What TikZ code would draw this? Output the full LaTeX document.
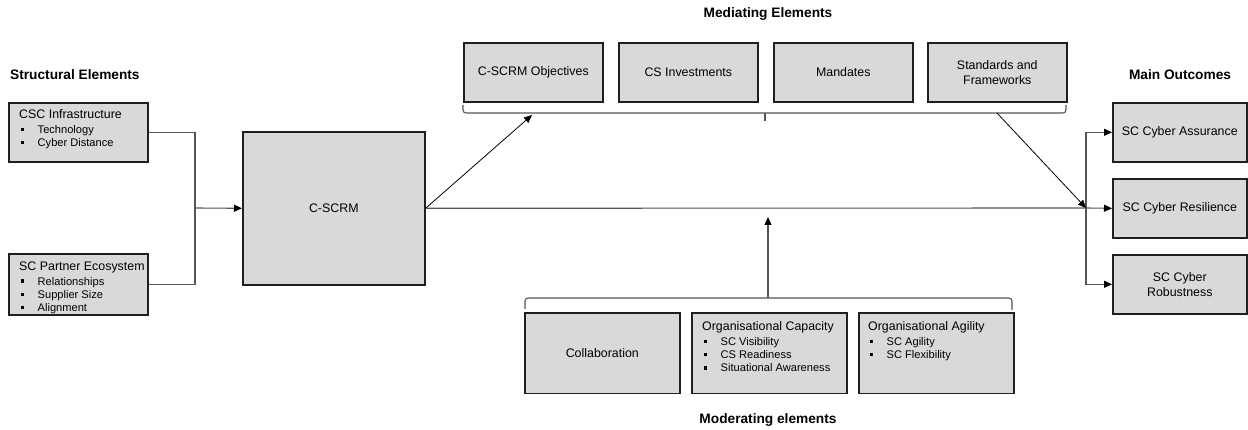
\documentclass[tikz,border=0pt]{standalone}
\usepackage{fontspec}
\setmainfont{Liberation Sans}
\usetikzlibrary{arrows.meta}
\definecolor{boxfill}{HTML}{D9D9D9}
\definecolor{boxline}{HTML}{1F1F1F}
\definecolor{connline}{HTML}{555555}
\newcommand{\ltitle}[1]{{\fontsize{12.4}{13.3}\selectfont #1}}
\newcommand{\bmark}{\hspace*{1.5pt}\makebox[17pt][l]{\rule[2.4pt]{3.2pt}{3.2pt}}}
\newcommand{\bfirst}[1]{\\[1.4pt]\bmark #1}
\newcommand{\bitem}[1]{\\\bmark #1}
\tikzset{
  box/.style={draw=boxline, fill=boxfill, line width=1.6pt, inner sep=0pt, anchor=north west,
     font=\fontsize{12.4}{15}\selectfont, align=center},
  listtext/.style={inner sep=0pt, anchor=north west, align=left, font=\fontsize{11.1}{13.3}\selectfont},
  heading/.style={inner sep=0pt, font=\fontsize{13.7}{16}\selectfont\bfseries},
  conn/.style={draw=connline, line width=1.1pt},
  thin/.style={draw=black, line width=0.8pt},
  tip/.style={-{Triangle[length=8pt,width=7pt,color=black]}},
}
\begin{document}
\begin{tikzpicture}[x=1pt,y=-1pt]
\useasboundingbox (0,0) rectangle (1248,430);

% headings
\node[heading, anchor=west] (hstruct) at (10,75) {Structural Elements};
\node[heading] (hmed) at (768,14) {Mediating Elements};
\node[heading] (hout) at (1180,75) {Main Outcomes};
\node[heading] (hmod) at (768,420) {Moderating elements};

% structural elements
\node[box, minimum width=139pt, minimum height=59pt] (csc) at (8,102) {};
\node[listtext] (csctxt) at (19,109.5) {\ltitle{CSC Infrastructure}\bfirst{Technology}\bitem{Cyber Distance}};
\node[box, minimum width=139pt, minimum height=61pt] (scp) at (8,253) {};
\node[listtext] (scptxt) at (19,261.5) {\ltitle{SC Partner Ecosystem}\bfirst{Relationships}\bitem{Supplier Size}\bitem{Alignment}};

% core
\node[box, minimum width=182pt, minimum height=153pt] (cscrm) at (242,131) {C-SCRM};

% mediating
\node[box, minimum width=139pt, minimum height=59pt] (obj) at (463,42) {C-SCRM Objectives};
\node[box, minimum width=139pt, minimum height=59pt] (inv) at (618,42) {CS Investments};
\node[box, minimum width=139pt, minimum height=59pt] (man) at (773,42) {Mandates};
\node[box, minimum width=139pt, minimum height=59pt] (std) at (927,42) {Standards and\\Frameworks};

% outcomes
\node[box, minimum width=134pt, minimum height=59pt] (ass) at (1112,102) {SC Cyber Assurance};
\node[box, minimum width=134pt, minimum height=59pt] (res) at (1112,178) {SC Cyber Resilience};
\node[box, minimum width=134pt, minimum height=59pt] (rob) at (1112,254) {SC Cyber\\Robustness};

% moderating
\node[box, minimum width=155pt, minimum height=80pt] (col) at (524,312.5) {Collaboration};
\node[box, minimum width=155pt, minimum height=80pt] (cap) at (691,312.5) {};
\node[listtext] (captxt) at (702,321.5) {\ltitle{Organisational Capacity}\bfirst{SC Visibility}\bitem{CS Readiness}\bitem{Situational Awareness}};
\node[box, minimum width=155pt, minimum height=80pt] (agi) at (858,312.5) {};
\node[listtext] (agitxt) at (868,321.5) {\ltitle{Organisational Agility}\bfirst{SC Agility}\bitem{SC Flexibility}};

% braces
\draw[conn, rounded corners=3pt] (463,105) -- (463,113) -- (1066,113) -- (1066,105);
\draw[conn] (765,113) -- (765,121);
\draw[conn, rounded corners=3pt] (525,309) -- (525,298) -- (1012,298) -- (1012,310);
\draw[conn] (768,298) -- (768,293);

% coordinates
\coordinate (jl) at (195,208);
\coordinate (jr) at (1086,208);
\coordinate (tbl) at (532,115);
\coordinate (tbr) at (997,113);
\coordinate (bb) at (768,293);
\coordinate (bt) at (768,217);

% connectors
\draw[conn] (csc.east) -| (jl);
\draw[conn] (scp.east) -| (jl);
\draw[conn, tip] (jl) -- (cscrm.west);
\draw[conn] (cscrm.east) -- (jr);
\draw[conn, tip] (jr) -- (res.west);
\draw[conn, tip] (jr) |- (ass.west);
\draw[conn, tip] (jr) |- (rob.west);
\draw[thin, tip] (cscrm.east) -- (tbl);
\draw[thin, tip] (tbr) -- (jr);
\draw[conn, tip] (bb) -- (bt);
\end{tikzpicture}
\end{document}
